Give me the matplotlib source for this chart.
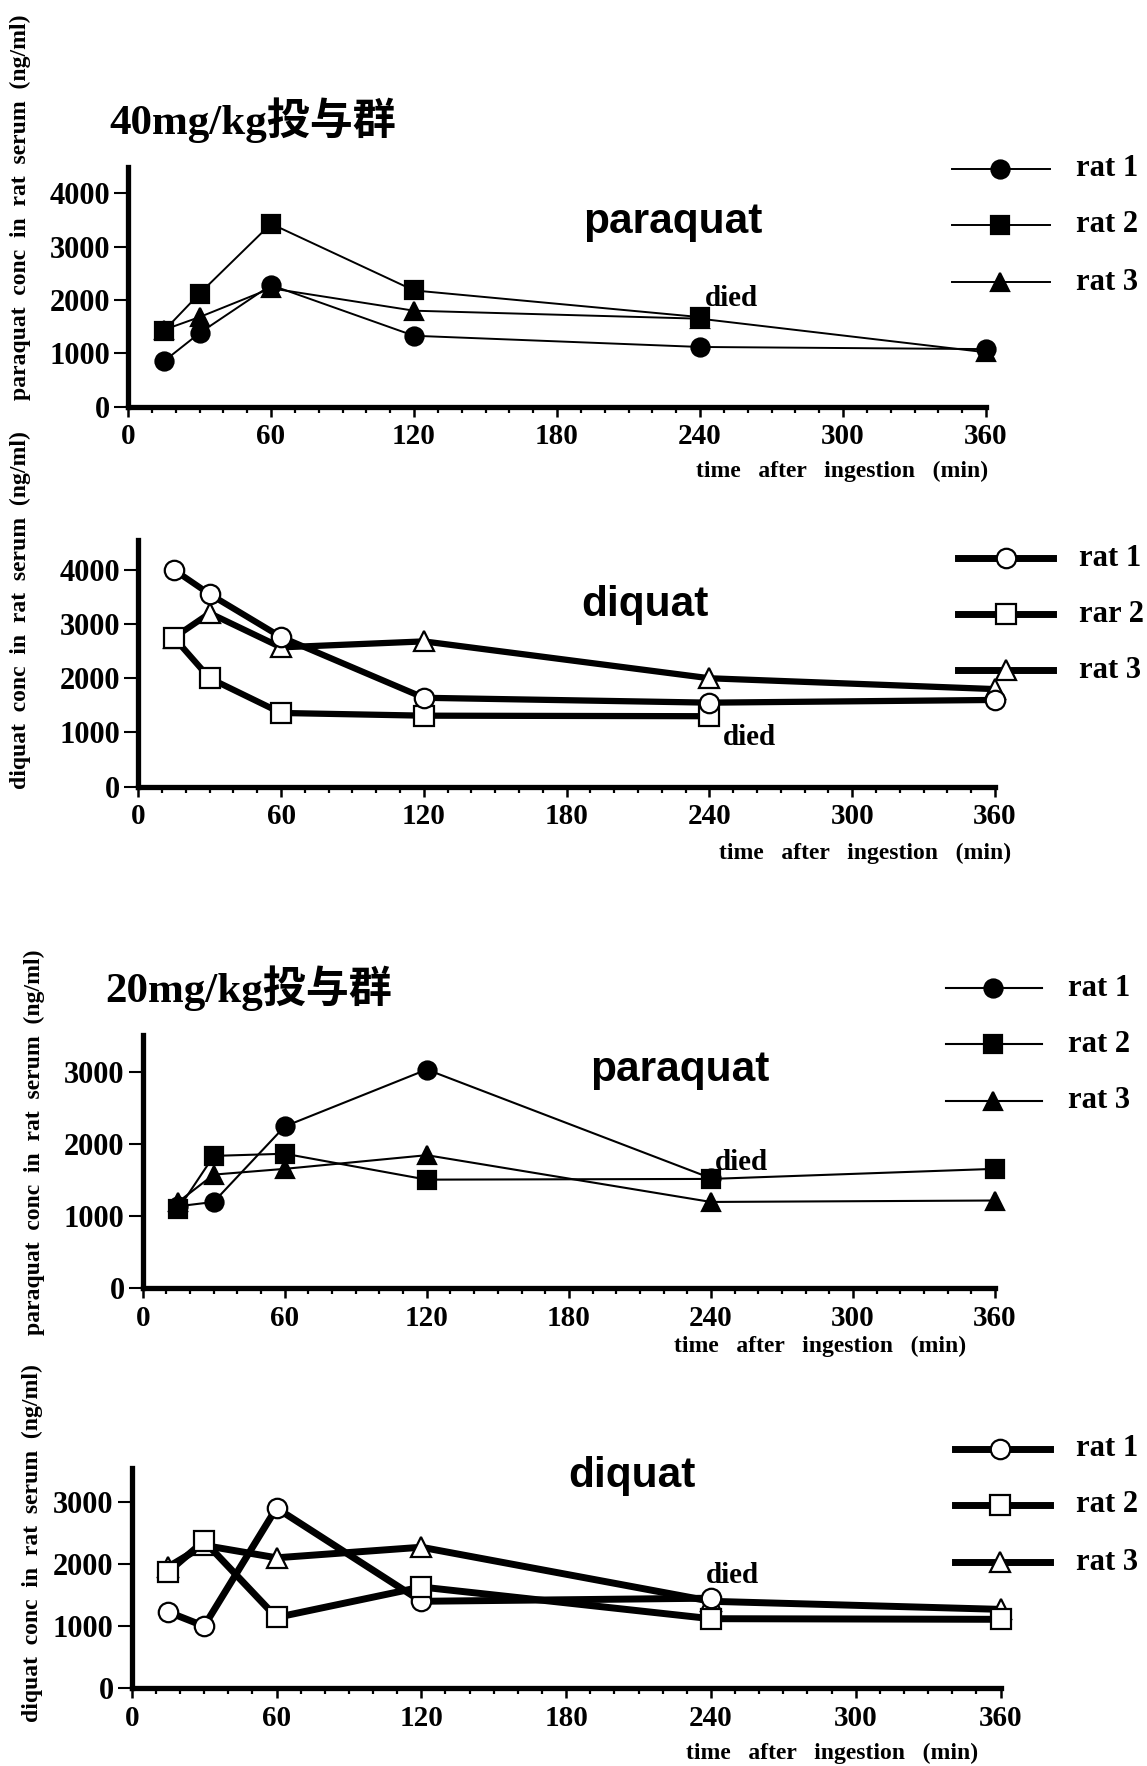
import matplotlib
matplotlib.use("Agg")
import matplotlib.pyplot as plt
from matplotlib.lines import Line2D
from matplotlib.ticker import MultipleLocator

# 40mg/kg群 paraquat (ng/ml)
pq40_time = [15, 30, 60, 120, 240, 360]
pq40_rat1 = [850, 1380, 2280, 1330, 1120, 1080]
pq40_rat2 = [1420, 2120, 3430, 2180, 1680]          # died at 240
pq40_rat3 = [1440, 1680, 2220, 1800, 1650, 1020]

# 40mg/kg群 diquat
dq40_time = [15, 30, 60, 120, 240, 360]
dq40_rat1 = [4000, 3550, 2760, 1640, 1550, 1600]
dq40_rat2 = [2750, 2000, 1360, 1310, 1300]          # died at 240
dq40_rat3 = [2750, 3200, 2570, 2680, 2000, 1800]

# 20mg/kg群 paraquat
pq20_time = [15, 30, 60, 120, 240, 360]
pq20_rat1 = [1140, 1200, 2250, 3040, 1530]          # died at 240
pq20_rat2 = [1100, 1840, 1870, 1510, 1520, 1660]
pq20_rat3 = [1200, 1580, 1660, 1850, 1200, 1220]

# 20mg/kg群 diquat
dq20_time = [15, 30, 60, 120, 240, 360]
dq20_rat1 = [1230, 1000, 2900, 1400, 1450]          # died at 240
dq20_rat2 = [1870, 2370, 1140, 1630, 1120, 1110]
dq20_rat3 = [1950, 2300, 2100, 2270, 1400, 1270]

W, H = 1147, 1766
SERIF = ["Liberation Serif", "Noto Sans CJK JP", "DejaVu Serif"]
SANS = ["Liberation Sans", "DejaVu Sans"]
plt.rcParams["font.family"] = SERIF
plt.rcParams["font.weight"] = "bold"

fig = plt.figure(figsize=(W / 100, H / 100), dpi=100)
fig.patch.set_facecolor("white")


def fx(x):
    return x / W


def fy(y):
    return 1 - y / H


def make_axes(left, right, bottom, top, ymax, yticks):
    ax = fig.add_axes([fx(left), fy(bottom), (right - left) / W, (bottom - top) / H])
    ax.set_xlim(0, 360)
    ax.set_ylim(0, ymax)
    for s in ["top", "right"]:
        ax.spines[s].set_visible(False)
    for s in ["left", "bottom"]:
        ax.spines[s].set_linewidth(3.8)
    ax.set_xticks(range(0, 361, 60))
    ax.xaxis.set_minor_locator(MultipleLocator(10))
    ax.set_yticks(yticks)
    ax.tick_params(axis="y", direction="out", length=10, width=1.5, pad=3, labelsize=22)
    ax.tick_params(axis="x", which="major", direction="out", length=7, width=1.8, pad=5, labelsize=21)
    ax.tick_params(axis="x", which="minor", direction="out", length=4, width=1.6)
    ax.patch.set_alpha(0)
    return ax


def draw_series(ax, times, vals, marker, filled, lw, ms, z):
    face = "black" if filled else "white"
    ax.plot(times[:len(vals)], vals, color="black", lw=lw, marker=marker, ms=ms,
            mfc=face, mec="black", mew=1.6, zorder=z, clip_on=False)


def legend(x0, xm, x1, xt, ys, labels, markers, filled, lw, ms):
    face = "black" if filled else "white"
    for y, lab, m in zip(ys, labels, markers):
        fig.add_artist(Line2D([fx(x0), fx(xm), fx(x1)], [fy(y)] * 3, transform=fig.transFigure,
                              color="black", lw=lw, marker=m, ms=ms, markevery=[1],
                              mfc=face, mec="black", mew=1.6))
        fig.text(fx(xt), fy(y), lab, fontsize=22, ha="left", va="center")


markers = ["o", "s", "^"]
xlab = "time   after   ingestion   (min)"

# ---- panel 1 : 40mg/kg paraquat
ax1 = make_axes(128, 986, 406.7, 166.7, 4500, [0, 1000, 2000, 3000, 4000])
draw_series(ax1, pq40_time, pq40_rat3, "^", True, 1.4, 13, 3)
draw_series(ax1, pq40_time, pq40_rat2, "s", True, 1.4, 13, 4)
draw_series(ax1, pq40_time, pq40_rat1, "o", True, 1.4, 13, 5)
ax1.text(242, 2030, "died", fontsize=21, ha="left", va="center")
fig.text(fx(109), fy(120.5), "40mg/kg投与群", fontsize=31, ha="left", va="center")
fig.text(fx(673), fy(222), "paraquat", family=SANS, fontsize=30.5, ha="center", va="center")
fig.text(fx(988), fy(471), xlab, fontsize=17, ha="right", va="center")
fig.text(fx(20), fy(400), "paraquat  conc  in  rat  serum  (ng/ml)", fontsize=17,
         rotation=90, ha="center", va="bottom")
legend(952, 1000, 1050, 1076, [169, 225, 282], ["rat 1", "rat 2", "rat 3"], markers, True, 1.4, 13)

# ---- panel 2 : 40mg/kg diquat
ax2 = make_axes(138.3, 995, 786.7, 540, 4550, [0, 1000, 2000, 3000, 4000])
draw_series(ax2, dq40_time, dq40_rat3, "^", False, 4.5, 14, 3)
draw_series(ax2, dq40_time, dq40_rat2, "s", False, 4.5, 14, 4)
draw_series(ax2, dq40_time, dq40_rat1, "o", False, 4.5, 14, 5)
ax2.text(257, 900, "died", fontsize=21, ha="center", va="center")
fig.text(fx(645), fy(605), "diquat", family=SANS, fontsize=30.5, ha="center", va="center")
fig.text(fx(1011), fy(853), xlab, fontsize=17, ha="right", va="center")
fig.text(fx(20), fy(789), "diquat  conc  in  rat  serum  (ng/ml)", fontsize=17,
         rotation=90, ha="center", va="bottom")
legend(958, 1006, 1053, 1079, [558, 614, 670], ["rat 1", "rar 2", "rat 3"], markers, False, 5, 14)

# ---- panel 3 : 20mg/kg paraquat
ax3 = make_axes(142.7, 995, 1288.3, 1035, 3520, [0, 1000, 2000, 3000])
draw_series(ax3, pq20_time, pq20_rat1, "o", True, 1.5, 13, 3)
draw_series(ax3, pq20_time, pq20_rat3, "^", True, 1.5, 13, 4)
draw_series(ax3, pq20_time, pq20_rat2, "s", True, 1.5, 13, 5)
ax3.text(253, 1754, "died", fontsize=21, ha="center", va="center")
fig.text(fx(105), fy(988), "20mg/kg投与群", fontsize=31, ha="left", va="center")
fig.text(fx(680), fy(1070), "paraquat", family=SANS, fontsize=30.5, ha="center", va="center")
fig.text(fx(966), fy(1346), xlab, fontsize=17, ha="right", va="center")
fig.text(fx(34), fy(1335), "paraquat  conc  in  rat  serum  (ng/ml)", fontsize=17,
         rotation=90, ha="center", va="bottom")
legend(946, 993, 1042, 1068, [988, 1044, 1101], ["rat 1", "rat 2", "rat 3"], markers, True, 1.5, 13)

# ---- panel 4 : 20mg/kg diquat
ax4 = make_axes(131.7, 1000.5, 1688.3, 1468.3, 3540, [0, 1000, 2000, 3000])
draw_series(ax4, dq20_time, dq20_rat3, "^", False, 5, 14, 3)
draw_series(ax4, dq20_time, dq20_rat1, "o", False, 5, 14, 4)
draw_series(ax4, dq20_time, dq20_rat2, "s", False, 5, 14, 5)
ax4.text(249, 1822, "died", fontsize=21, ha="center", va="center")
fig.text(fx(632), fy(1476), "diquat", family=SANS, fontsize=30.5, ha="center", va="center")
fig.text(fx(978), fy(1753), xlab, fontsize=17, ha="right", va="center")
fig.text(fx(32), fy(1722), "diquat  conc  in  rat  serum  (ng/ml)", fontsize=17,
         rotation=90, ha="center", va="bottom")
legend(955, 1000, 1050, 1076, [1449, 1505, 1562], ["rat 1", "rat 2", "rat 3"], markers, False, 5, 14)

fig.savefig("out.png", dpi=100, facecolor="white")
